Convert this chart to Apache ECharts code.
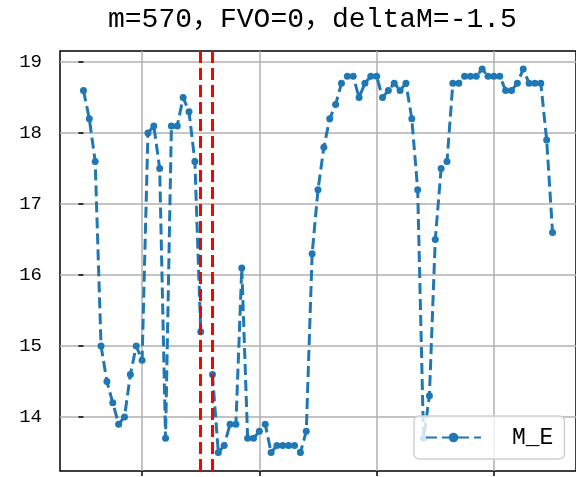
<!DOCTYPE html>
<html>
<head>
<meta charset="utf-8">
<script src="https://cdn.jsdelivr.net/npm/echarts@6/dist/echarts.min.js"></script>
<style>
  html, body { margin: 0; padding: 0; background: #fff; }
  #main { width: 576px; height: 477px; }
</style>
</head>
<body>
<div id="main"></div>
<script>
// M_E 数值，按点序号排列（null 为缺失点）
var meValues = [
  18.6, 18.2, 17.6, 15.0, 14.5, 14.2, 13.9, 14.0, 14.6, 15.0,
  14.8, 18.0, 18.1, 17.5, 13.7, 18.1, 18.1, 18.5, 18.3, 17.6,
  15.2, null, 14.6, 13.5, 13.6, 13.9, 13.9, 16.1, 13.7, 13.7,
  13.8, 13.9, 13.5, 13.6, 13.6, 13.6, 13.6, 13.5, 13.8, 16.3,
  17.2, 17.8, 18.2, 18.4, 18.7, 18.8, 18.8, 18.5, 18.7, 18.8,
  18.8, 18.5, 18.6, 18.7, 18.6, 18.7, 18.2, 17.2, 13.7, 14.3,
  16.5, 17.5, 17.6, 18.7, 18.7, 18.8, 18.8, 18.8, 18.9, 18.8,
  18.8, 18.8, 18.6, 18.6, 18.7, 18.9, 18.7, 18.7, 18.7, 17.9,
  16.6
];
var xTicks = [10, 30, 50, 70];
var yTicks = [14, 15, 16, 17, 18, 19];
var redLines = [20, 22];

var myChart = echarts.init(document.getElementById('main'));
var data = meValues.map(function (v, i) { return [i, v]; });
var font = '"Liberation Mono", "Noto Sans CJK SC", monospace';

myChart.setOption({
  backgroundColor: '#fff',
  animation: false,
  title: {
    text: 'm=570，FVO=0，deltaM=-1.5',
    left: 108,
    top: 6,
    padding: 0,
    textStyle: { fontFamily: font, fontSize: 28, fontWeight: 'normal', color: '#000' }
  },
  grid: {
    left: 60, right: -1, top: 51, bottom: 6,
    show: true, borderColor: '#000', borderWidth: 1.5
  },
  legend: {
    left: 414, top: 416,
    data: ['M_E'],
    itemWidth: 55, itemHeight: 12,
    padding: [10, 11, 10, 11],
    borderColor: '#d0d0d0', borderWidth: 1.5, borderRadius: 5,
    backgroundColor: 'rgba(255,255,255,0.8)',
    textStyle: { fontFamily: font, fontSize: 23, color: '#000', padding: [0, 0, 0, 26] }
  },
  xAxis: {
    type: 'value', min: -4, max: 84,
    axisLine: { show: false },
    axisTick: { show: true, length: 5, customValues: xTicks, lineStyle: { color: '#000', width: 1.5 } },
    axisLabel: { show: false, customValues: xTicks },
    splitLine: { show: true, customValues: xTicks, lineStyle: { color: '#b0b0b0', width: 1.5 } }
  },
  yAxis: {
    type: 'value', min: 13.24, max: 19.155,
    axisLine: { show: false },
    axisTick: { show: true, length: 5, customValues: yTicks, lineStyle: { color: '#000', width: 1.5 } },
    axisLabel: { customValues: yTicks, margin: 18, fontFamily: font, fontSize: 19, color: '#000' },
    splitLine: { show: true, customValues: yTicks, lineStyle: { color: '#b0b0b0', width: 1.5 } }
  },
  series: [{
    name: 'M_E',
    type: 'line',
    data: data,
    connectNulls: false,
    symbol: 'circle',
    symbolSize: 7,
    color: '#1f77b4',
    lineStyle: { type: [11, 5], width: 3 },
    markLine: {
      silent: true,
      symbol: 'none',
      label: { show: false },
      lineStyle: { color: '#ff0000', type: [12, 5], width: 3 },
      data: redLines.map(function (x) { return { xAxis: x }; })
    }
  }]
});
</script>
</body>
</html>
